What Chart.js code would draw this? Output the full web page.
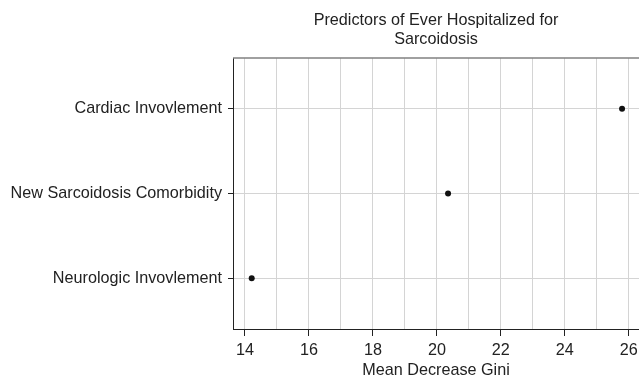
<!DOCTYPE html>
<html>
<head>
<meta charset="utf-8">
<title>Predictors of Ever Hospitalized for Sarcoidosis</title>
<script src="https://cdn.jsdelivr.net/npm/chart.js@4/dist/chart.umd.min.js"></script>
<style>
  html, body { margin: 0; padding: 0; background: #fff; }
  #wrap { width: 639px; height: 380px; }
</style>
</head>
<body>
<div id="wrap"><canvas id="giniChart" width="639" height="380"></canvas></div>
<script>
(function () {
  // predictors, bottom to top
  var predictors = ["Neurologic Invovlement", "New Sarcoidosis Comorbidity", "Cardiac Invovlement"];
  var meanDecreaseGini = [14.21, 20.35, 25.79];
  var xGridValues = [14, 15, 16, 17, 18, 19, 20, 21, 22, 23, 24, 25, 26];
  var xTickLabels = [14, 16, 18, 20, 22, 24, 26];
  var titleLines = ["Predictors of Ever Hospitalized for", "Sarcoidosis"];
  var xTitle = "Mean Decrease Gini";

  var FONT = "'Liberation Sans', Arial, Helvetica, sans-serif";
  var SIZE = 16.2;
  var TEXT = "#222";
  var GRID = "#d4d4d4";

  var points = meanDecreaseGini.map(function (v, i) {
    return { x: v, y: i + 1 };
  });

  // grey top frame line + two-line title centred over the plot
  var frameTitle = {
    id: "frameTitle",
    afterDraw: function (chart) {
      var a = chart.chartArea;
      var ctx = chart.ctx;
      ctx.save();
      ctx.strokeStyle = "#808080";
      ctx.lineWidth = 1.5;
      ctx.beginPath();
      ctx.moveTo(a.left, a.top);
      ctx.lineTo(a.right, a.top);
      ctx.stroke();
      ctx.fillStyle = TEXT;
      ctx.font = SIZE + "px " + FONT;
      ctx.textAlign = "center";
      ctx.textBaseline = "middle";
      var cx = (a.left + a.right) / 2;
      titleLines.forEach(function (line, i) {
        ctx.fillText(line, cx, 21 + i * 19);
      });
      ctx.restore();
    }
  };

  new Chart(document.getElementById("giniChart"), {
    type: "scatter",
    data: {
      datasets: [{
        label: "Mean Decrease Gini",
        data: points,
        pointRadius: 3,
        pointHoverRadius: 3,
        pointBackgroundColor: "#111",
        pointBorderWidth: 0
      }]
    },
    options: {
      responsive: false,
      animation: false,
      layout: { autoPadding: false, padding: { top: 58, left: 0, right: 0, bottom: 0 } },
      plugins: { legend: { display: false }, tooltip: { enabled: false } },
      scales: {
        x: {
          type: "linear",
          min: 13.625,
          max: 26.32,
          afterBuildTicks: function (scale) {
            scale.ticks = xGridValues.map(function (v) { return { value: v }; });
          },
          afterFit: function (scale) {
            scale.height = 51;
            scale.paddingLeft = 0;
            scale.paddingRight = 0;
          },
          grid: {
            color: GRID,
            lineWidth: 1,
            tickLength: 7,
            tickColor: function (ctx) {
              return ctx.tick && xTickLabels.indexOf(ctx.tick.value) >= 0 ? TEXT : "rgba(0,0,0,0)";
            }
          },
          border: { color: TEXT, width: 1 },
          ticks: {
            padding: 5,
            maxRotation: 0,
            autoSkip: false,
            color: TEXT,
            font: { family: FONT, size: SIZE },
            callback: function (v) {
              return xTickLabels.indexOf(v) >= 0 ? String(v) : "";
            }
          },
          title: {
            display: true,
            text: xTitle,
            color: TEXT,
            font: { family: FONT, size: SIZE },
            padding: { top: 0, bottom: 0 }
          }
        },
        y: {
          type: "linear",
          min: 0.4,
          max: 3.6,
          afterBuildTicks: function (scale) {
            scale.ticks = predictors.map(function (p, i) { return { value: i + 1 }; });
          },
          afterFit: function (scale) {
            scale.width = 233;
            scale.paddingTop = 0;
            scale.paddingBottom = 0;
          },
          grid: { color: GRID, lineWidth: 1, tickLength: 5, tickColor: TEXT },
          border: { color: TEXT, width: 1 },
          ticks: {
            padding: 6,
            autoSkip: false,
            color: TEXT,
            font: { family: FONT, size: SIZE },
            callback: function (v) {
              return predictors[v - 1] || "";
            }
          }
        }
      }
    },
    plugins: [frameTitle]
  });
})();
</script>
</body>
</html>
